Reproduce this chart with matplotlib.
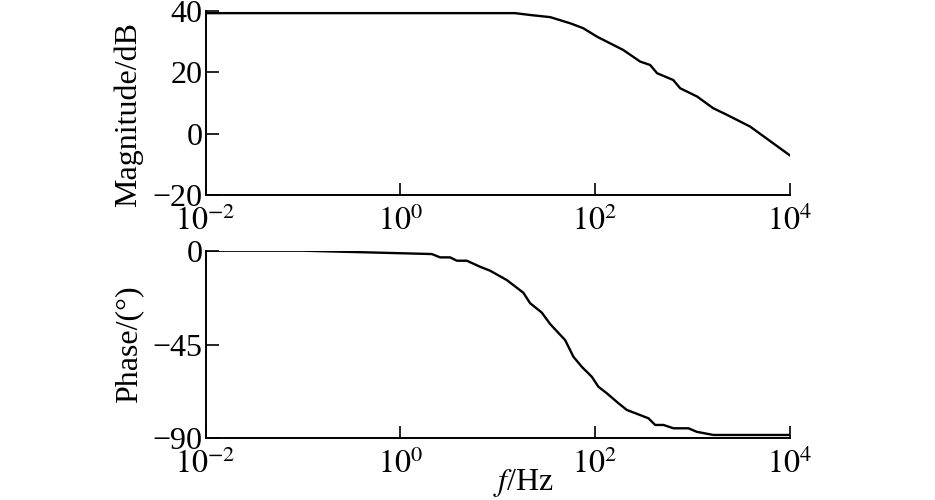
import numpy as np
import matplotlib.pyplot as plt
plt.switch_backend('Agg')

plt.rcParams['font.family'] = ['Liberation Serif', 'DejaVu Serif']
plt.rcParams['mathtext.fontset'] = 'stix'
plt.rcParams['font.size'] = 23

# magnitude curve (log10 of frequency, dB)
mag_logf = [-2.0, 1.18, 1.335, 1.541, 1.746, 1.880, 2.024, 2.291, 2.466, 2.568,
            2.640, 2.805, 2.877, 3.051, 3.216, 3.360, 3.596, 4.0]
mag_db = [39.3, 39.3, 38.7, 38.0, 36.0, 34.4, 31.6, 27.3, 23.5, 22.4,
          19.7, 17.5, 14.8, 12.1, 8.3, 6.1, 2.3, -7.0]

# phase curve (log10 of frequency, degrees)
ph_logf = [-2.0, -1.0, 0.325, 0.41, 0.513, 0.582, 0.684, 0.821, 0.924, 1.096,
           1.266, 1.335, 1.455, 1.541, 1.695, 1.780, 1.866, 1.969, 2.037, 2.123,
           2.243, 2.329, 2.551, 2.620, 2.705, 2.808, 2.962, 3.048, 3.219, 4.0]
ph_deg = [0.0, 0.0, -1.6, -3.2, -3.2, -4.8, -4.8, -7.7, -9.6, -14.1,
          -20.2, -25.2, -29.7, -35.2, -42.9, -50.9, -55.7, -60.5, -65.3, -68.4,
          -73.2, -76.4, -80.4, -83.6, -83.6, -85.2, -85.2, -86.9, -88.4, -88.4]

xticks = [1e-2, 1e0, 1e2, 1e4]
xticklabels = [r'$10^{-2}$', r'$10^{0}$', r'$10^{2}$', r'$10^{4}$']

fig = plt.figure(figsize=(9.35, 5), dpi=100)
ax1 = fig.add_axes([0.2198, 0.61, 0.6246, 0.368])
ax2 = fig.add_axes([0.2198, 0.1234, 0.6246, 0.3752])


def style(ax):
    ax.set_xscale('log')
    ax.set_xlim(1e-2, 1e4)
    ax.set_xticks(xticks)
    ax.set_xticklabels(xticklabels)
    ax.minorticks_off()
    ax.spines['top'].set_visible(False)
    ax.spines['right'].set_visible(False)
    for s in ['left', 'bottom']:
        ax.spines[s].set_linewidth(1.4)
    ax.tick_params(direction='in', length=9, width=1.2)
    ax.tick_params(axis='x', pad=8)
    ax.tick_params(axis='y', pad=2)


ax1.plot(10 ** np.array(mag_logf), mag_db, color='black', lw=1.7)
style(ax1)
ax1.set_ylim(-20, 40)
ax1.set_yticks([-20, 0, 20, 40])
ax1.set_yticklabels(['\u221220', '0', '20', '40'])
ax1.set_ylabel('Magnitude/dB')
ax1.yaxis.set_label_coords(-0.107, 0.435)

ax2.plot(10 ** np.array(ph_logf), ph_deg, color='black', lw=1.7)
style(ax2)
ax2.set_ylim(-90, 0)
ax2.set_yticks([-90, -45, 0])
ax2.set_yticklabels(['\u221290', '\u221245', '0'])
ax2.set_ylabel('Phase/(\u00b0)')
ax2.yaxis.set_label_coords(-0.107, 0.5)
ax2.set_xlabel(r'$f$/Hz')
ax2.xaxis.set_label_coords(0.544, -0.155)

fig.savefig('out.png', dpi=100)
